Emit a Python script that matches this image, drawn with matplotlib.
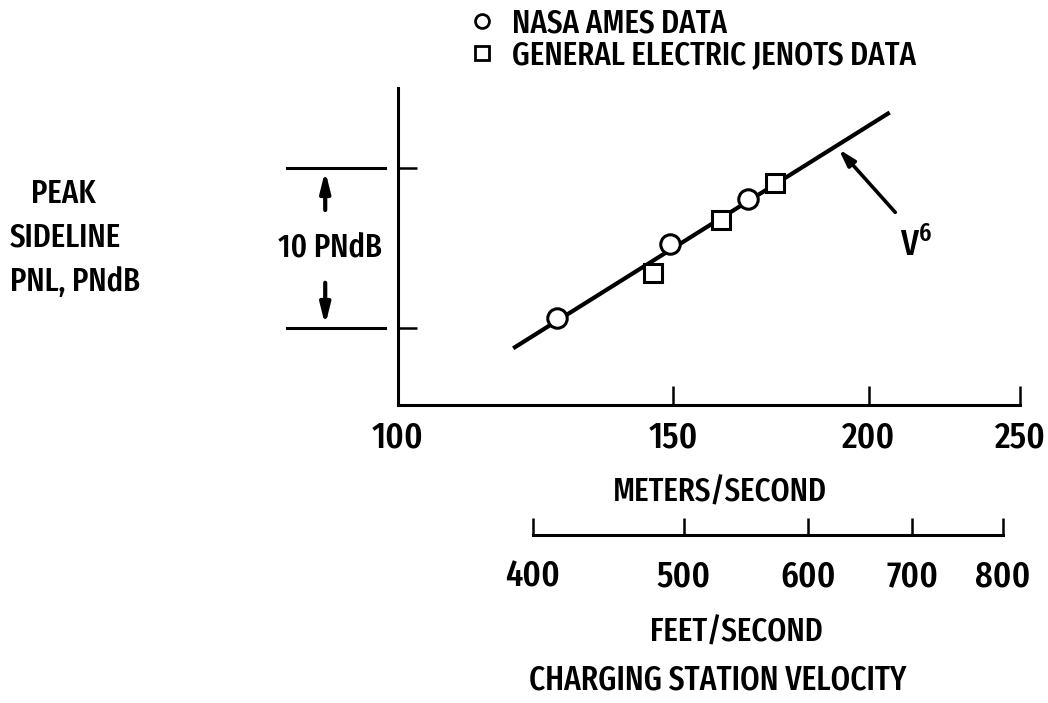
import matplotlib
matplotlib.use("Agg")
import matplotlib.pyplot as plt
import matplotlib.ticker as mticker
import matplotlib.transforms as mtrans

# measured values, velocity in m/s, level relative to lower reference tick (PNdB)
ames_v = [126.4, 149.3, 167.5]
ames_db = [0.6, 5.25, 8.05]
ge_v = [145.6, 160.9, 174.3]
ge_db = [3.45, 6.75, 9.05]
fit_v = [118.8, 205.8]          # V^6 line end points
fit_db = [-1.2, 13.4]

ms_ticks = [100, 150, 200, 250]
fts_ticks = [400, 500, 600, 700, 800]
ref_db = [0, 10]

FT_PER_M = 3.28084

plt.rcParams["font.family"] = ["Fira Sans Extra Condensed", "Roboto Condensed", "DejaVu Sans"]
plt.rcParams["font.weight"] = "medium"

W, H = 1048, 703
fig = plt.figure(figsize=(W / 100, H / 100), dpi=100)


def fx(px):
    return px / W


def fy(py):
    return 1 - py / H


left, right, top, bottom = 398, 1020, 88, 405
ax = fig.add_axes([fx(left), fy(bottom), fx(right) - fx(left), fy(top) - fy(bottom)])
ax.set_xscale("log")
ax.set_xlim(100, 250)
ax.set_ylim(-(bottom - 328) / 16, (328 - top) / 16)
for s in ["top", "right"]:
    ax.spines[s].set_visible(False)
for s in ["left", "bottom"]:
    ax.spines[s].set_linewidth(2.2)

ax.set_xticks(ms_ticks)
ax.set_xticklabels([str(t) for t in ms_ticks])
ax.xaxis.set_minor_locator(mticker.NullLocator())
ax.tick_params(axis="x", direction="in", length=14, width=1.8, pad=11, labelsize=27)
ax.set_yticks(ref_db)
ax.set_yticklabels([])
ax.tick_params(axis="y", direction="in", length=14, width=1.8)

ax.plot(fit_v, fit_db, color="black", lw=3, clip_on=False, zorder=2)
ax.plot(ames_v, ames_db, "o", ms=14, mfc="white", mec="black", mew=2.2, ls="none", zorder=3)
ax.plot(ge_v, ge_db, "s", ms=13, mfc="white", mec="black", mew=2.2, ls="none", zorder=3)

# V^6 pointer
ax.annotate("", xy=(190.9, 11.3), xytext=(208.6, 7.1),
            arrowprops=dict(arrowstyle="-|>,head_length=1.0,head_width=0.3", color="black", lw=2.6))
ax.text(209.5, 4.0, "V$^{\\mathregular{6}}$", fontsize=27, ha="left", va="bottom")

# 10 PNdB dimension
trans = mtrans.blended_transform_factory(ax.transAxes, ax.transData)
for d in ref_db:
    ax.plot([(287 - left) / 622, (385 - left) / 622], [d, d], color="black", lw=2.2,
            transform=trans, clip_on=False)
ax.annotate("", xy=(-0.117, 10), xytext=(-0.117, 7.2), xycoords=trans, textcoords=trans,
            arrowprops=dict(arrowstyle="-|>,head_length=1.2,head_width=0.3", color="black", lw=3))
ax.annotate("", xy=(-0.117, 0), xytext=(-0.117, 3.0), xycoords=trans, textcoords=trans,
            arrowprops=dict(arrowstyle="-|>,head_length=1.2,head_width=0.3", color="black", lw=3))
ax.text(-0.109, 5.0, "10 PNdB", transform=trans, ha="center", va="center", fontsize=24)

# second scale in feet/second
ax2 = fig.add_axes([fx(left), fy(535), fx(right) - fx(left), 0.0001])
ax2.set_xscale("log")
ax2.set_xlim(100 * FT_PER_M, 250 * FT_PER_M)
ax2.set_yticks([])
for s in ["top", "right", "left"]:
    ax2.spines[s].set_visible(False)
ax2.spines["bottom"].set_bounds(fts_ticks[0], fts_ticks[-1])
ax2.spines["bottom"].set_linewidth(2.2)
ax2.patch.set_visible(False)
ax2.set_xticks(fts_ticks)
ax2.set_xticklabels([str(t) for t in fts_ticks])
ax2.xaxis.set_minor_locator(mticker.NullLocator())
ax2.tick_params(axis="x", direction="in", length=12, width=1.8, pad=17, labelsize=27)

fig.text(fx(720), fy(493), "METERS/SECOND", ha="center", va="center", fontsize=24)
fig.text(fx(736), fy(633), "FEET/SECOND", ha="center", va="center", fontsize=24)
fig.text(fx(718), fy(680), "CHARGING STATION VELOCITY", ha="center", va="center", fontsize=24.5)

fig.text(fx(63), fy(194), "PEAK", ha="center", va="center", fontsize=24)
fig.text(fx(65), fy(238), "SIDELINE", ha="center", va="center", fontsize=24)
fig.text(fx(75), fy(282), "PNL, PNdB", ha="center", va="center", fontsize=24)

# legend
h1, = ax.plot([], [], "o", ms=10, mfc="white", mec="black", mew=2)
h2, = ax.plot([], [], "s", ms=10, mfc="white", mec="black", mew=2)
fig.legend([h1, h2], ["NASA AMES DATA", "GENERAL ELECTRIC JENOTS DATA"],
           loc="upper left", bbox_to_anchor=(fx(449), fy(-9)), frameon=False,
           fontsize=24, handlelength=1.0, handletextpad=0.4, labelspacing=0.0, borderpad=0)

fig.savefig("out.png", dpi=100)
